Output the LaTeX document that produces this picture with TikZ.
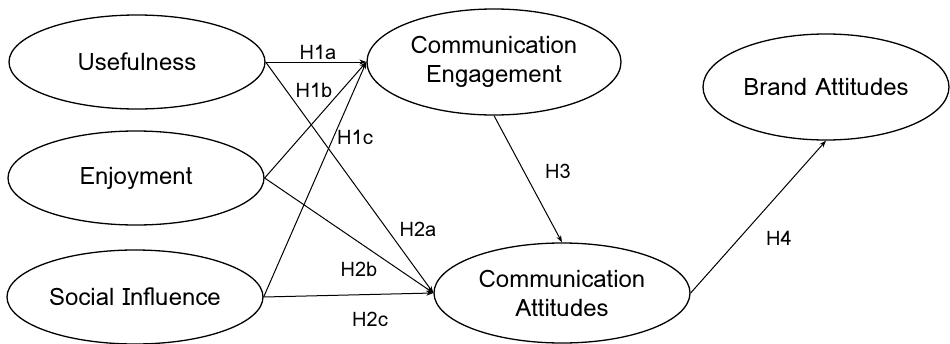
\documentclass[tikz,border=0pt]{standalone}
\usepackage{fontspec}
\setmainfont{Loma}
\usetikzlibrary{shapes.geometric,arrows.meta}
\begin{document}
\begin{tikzpicture}[x=1pt,y=-1pt,
  var/.style={ellipse,draw,line width=1.3pt,inner sep=0pt,font=\fontsize{24}{29}\selectfont,align=center},
  path/.style={line width=1pt,-{Stealth[length=7pt,width=5pt]}},
  lab/.style={font=\fontsize{20}{24}\selectfont}]
\useasboundingbox (0,0) rectangle (950,343);
\node[var,minimum width=256pt,minimum height=94pt] (U) at (137,62) {Usefulness};
\node[var,minimum width=256pt,minimum height=94pt] (E) at (136,178) {Enjoyment};
\node[var,minimum width=256pt,minimum height=94pt] (S) at (135,297) {Social Influence};
\node[var,minimum width=254pt,minimum height=106pt] (CE) at (494,62) {Communication\\Engagement};
\node[var,minimum width=256pt,minimum height=100pt] (CA) at (562,293) {Communication\\Attitudes};
\node[var,minimum width=246pt,minimum height=106pt] (BA) at (826,87) {Brand Attitudes};
\coordinate (CEw) at (CE.west);
\coordinate (CAw) at (CA.west);
\draw[path] (U.east) -- (CEw);
\draw[path] (E.east) -- (CEw);
\draw[path] (S.east) -- (CEw);
\draw[path] (U.east) -- (CAw);
\draw[path] (E.east) -- (CAw);
\draw[path] (S.east) -- (CAw);
\draw[path] (CE.south) -- (CA.north);
\draw[path] (CA.east) -- (BA.south);
\node[lab] (h1a) at (318,52) {H1a};
\node[lab] (h1b) at (314,90) {H1b};
\node[lab] (h1c) at (355,137) {H1c};
\node[lab] (h2a) at (418,229) {H2a};
\node[lab] (h2b) at (359,269) {H2b};
\node[lab] (h2c) at (370,319) {H2c};
\node[lab] (h3) at (558,171) {H3};
\node[lab] (h4) at (779,238) {H4};
\end{tikzpicture}
\end{document}
